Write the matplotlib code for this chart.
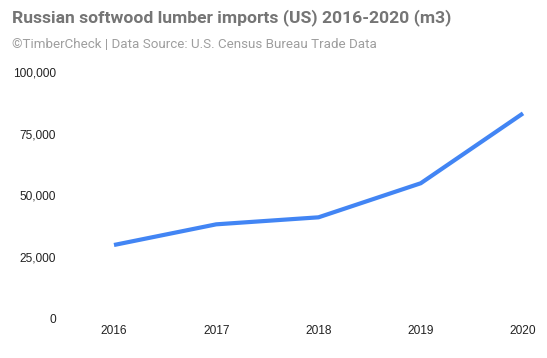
import matplotlib
matplotlib.use("Agg")
import matplotlib.pyplot as plt
from matplotlib.ticker import FuncFormatter

years = [2016, 2017, 2018, 2019, 2020]
imports_m3 = [29800, 38200, 41050, 54900, 83300]
y_ticks = [0, 25000, 50000, 75000, 100000]

W, H = 547, 358
fig = plt.figure(figsize=(W/100, H/100), dpi=100)
ax = fig.add_axes([114/W, 1-318.3/H, (523-114)/W, (318.3-72.3)/H])

ax.plot(years, imports_m3, color="#4285F4", lw=3, solid_capstyle="butt",
        solid_joinstyle="round", clip_on=False)
ax.set_xlim(2016, 2020)
ax.set_ylim(0, 100000)
ax.set_xticks(years)
ax.set_yticks(y_ticks)
ax.yaxis.set_major_formatter(FuncFormatter(lambda v, p: f"{int(v):,}"))
for s in ax.spines.values():
    s.set_visible(False)
ax.tick_params(length=0, labelsize=8.6, labelcolor="#222222")
ax.tick_params(axis="y", pad=(114-56)*0.72)
ax.tick_params(axis="x", pad=5)
for lab in ax.get_xticklabels() + ax.get_yticklabels():
    lab.set_fontfamily("Liberation Sans")

fig.text(12/W, 1-18/H, "Russian softwood lumber imports (US) 2016-2020 (m3)",
         fontsize=12.6, fontweight="bold", color="#757575", family="Roboto",
         va="center", ha="left")
fig.text(12/W, 1-45/H, "©TimberCheck | Data Source: U.S. Census Bureau Trade Data",
         fontsize=9.6, color="#9e9e9e", family="Roboto", va="center", ha="left")

fig.savefig("out.png", dpi=100)
